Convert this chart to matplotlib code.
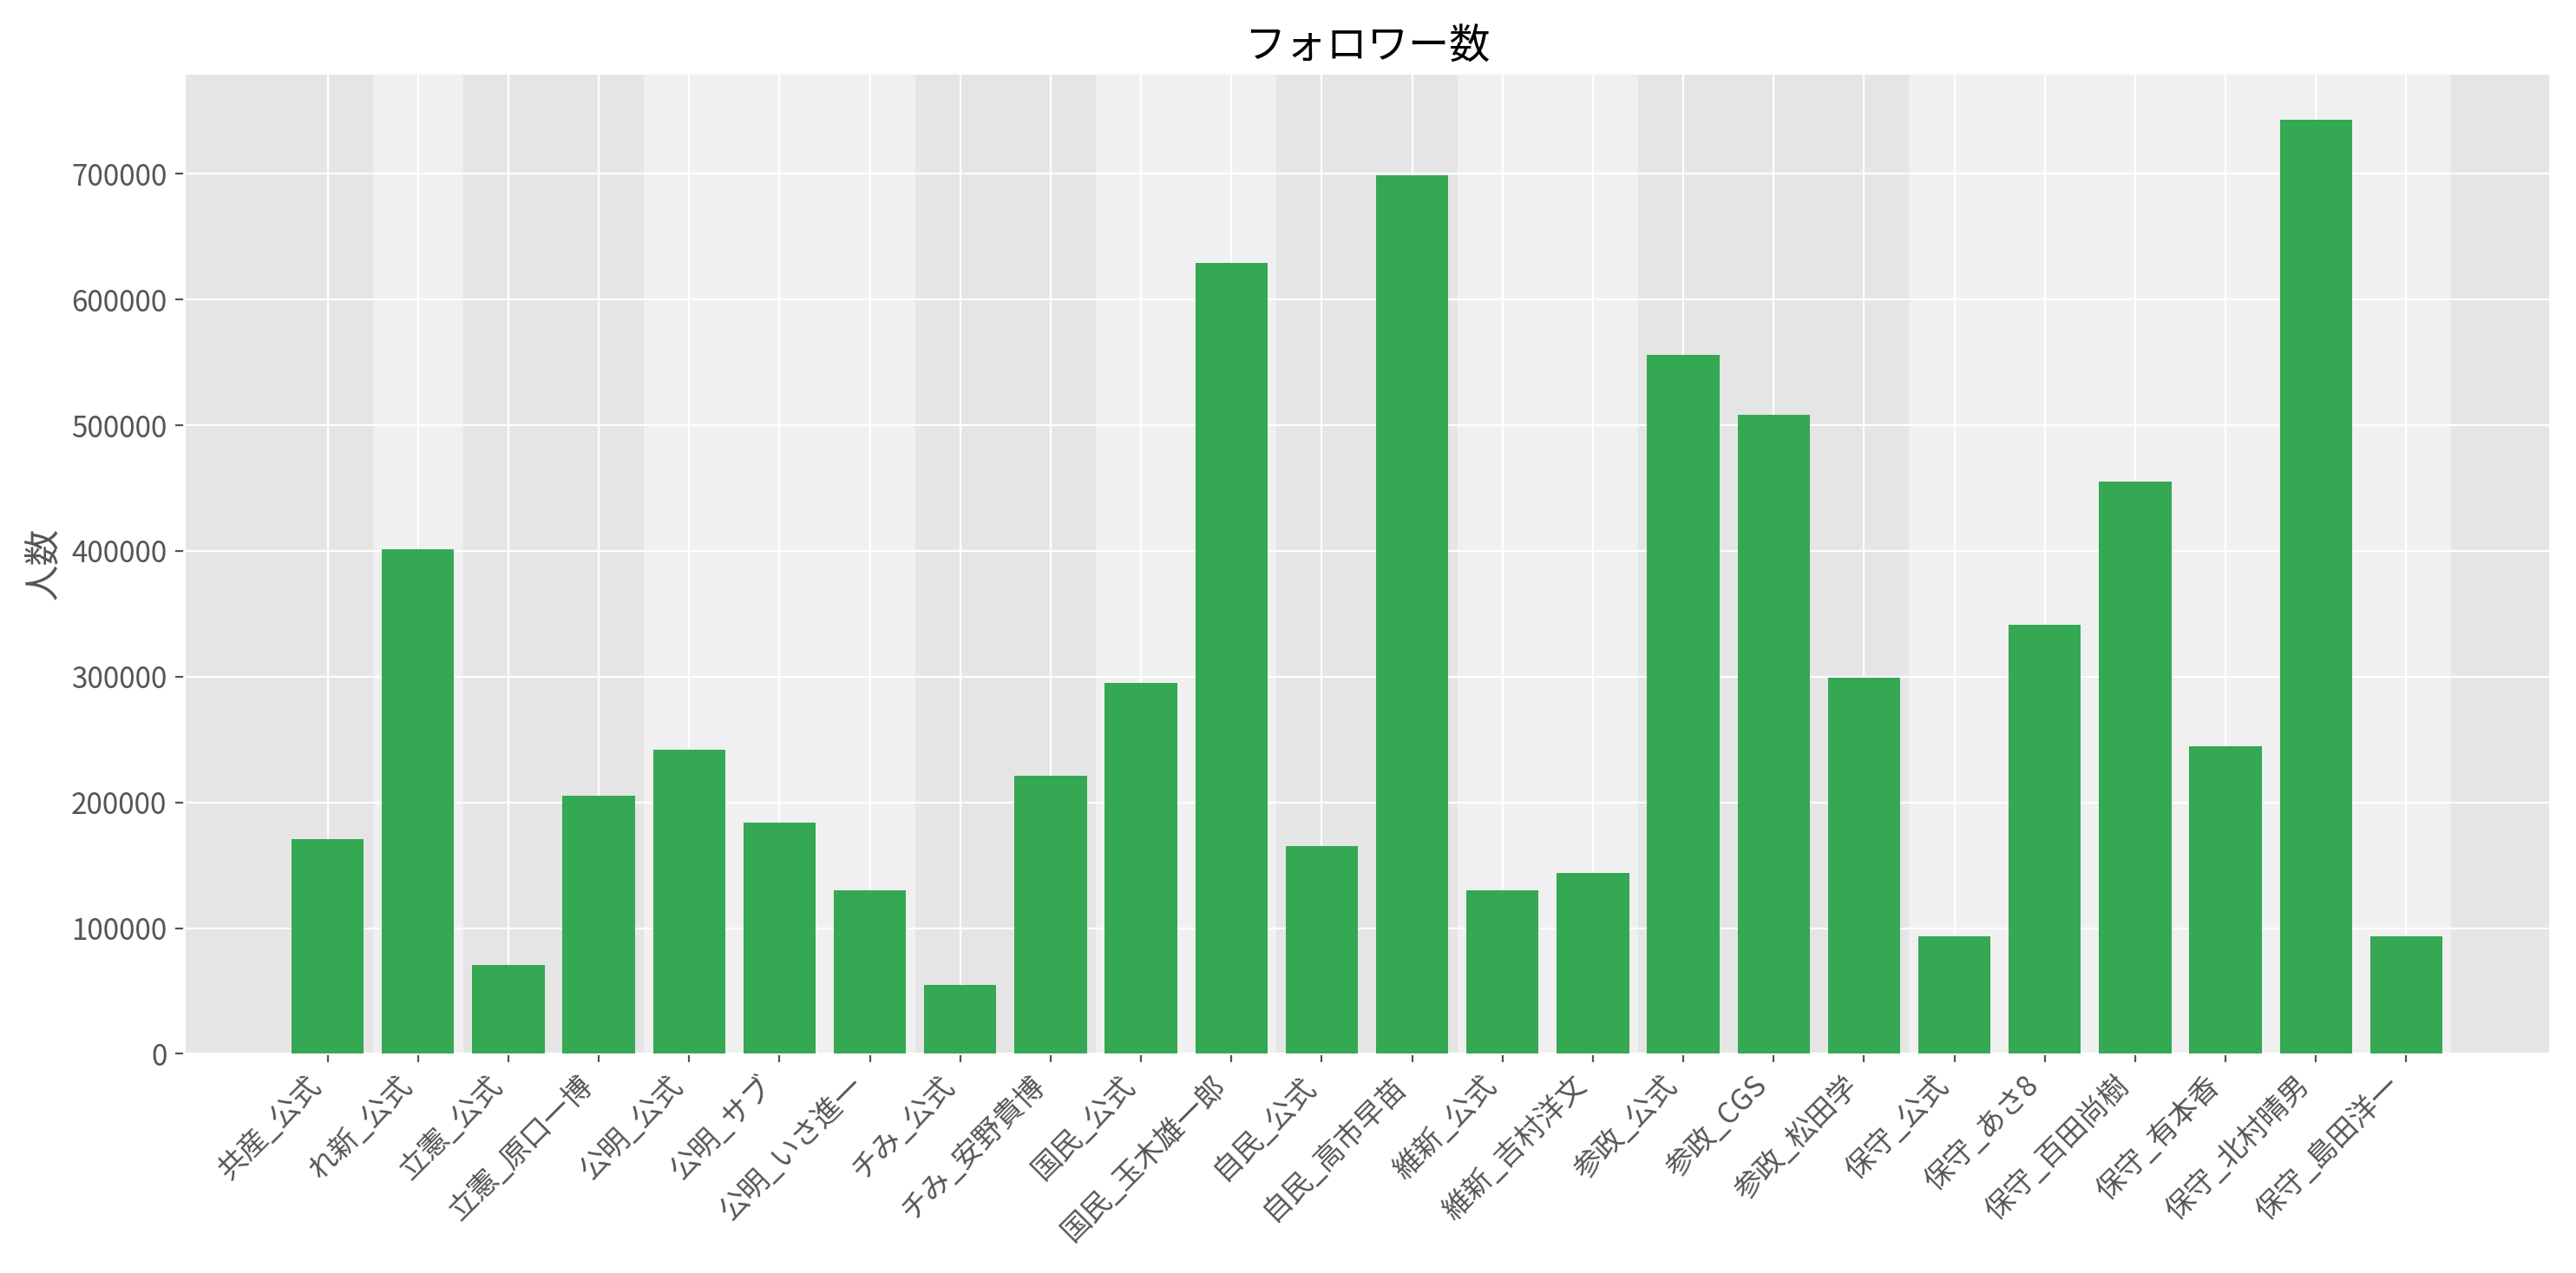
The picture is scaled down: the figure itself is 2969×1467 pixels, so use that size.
import matplotlib.pyplot as plt
import numpy as np

plt.style.use('ggplot')
plt.rcParams['font.family'] = ['Noto Sans CJK JP', 'DejaVu Sans']

accounts = ['共産_公式', 'れ新_公式', '立憲_公式', '立憲_原口一博', '公明_公式', '公明_サブ',
            '公明_いさ進一', 'チみ_公式', 'チみ_安野貴博', '国民_公式', '国民_玉木雄一郎',
            '自民_公式', '自民_高市早苗', '維新_公式', '維新_吉村洋文', '参政_公式', '参政_CGS',
            '参政_松田学', '保守_公式', '保守_あさ8', '保守_百田尚樹', '保守_有本香',
            '保守_北村晴男', '保守_島田洋一']
followers = [171000, 401000, 71000, 205000, 242000, 184000, 130000, 54500, 221000, 295000,
             629000, 165000, 698600, 130000, 144000, 556000, 508600, 299000, 93600, 341000,
             455500, 244500, 743000, 93600]
# party groups as (first index, last index)
groups = [(0, 0), (1, 1), (2, 3), (4, 6), (7, 8), (9, 10), (11, 12), (13, 14), (15, 17), (18, 23)]

fig, ax = plt.subplots(figsize=(14.845, 7.335), dpi=200)
x = np.arange(len(accounts))
for k, (a, b) in enumerate(groups):
    if k % 2 == 1:
        ax.axvspan(a - 0.5, b + 0.5, color='white', alpha=0.45, lw=0, zorder=0.5)
ax.bar(x, followers, color='#34a853', zorder=3)
ax.set_xlim(-1.59, 24.59)
ax.set_xticks(x)
ax.set_xticklabels(accounts, rotation=45, ha='right', fontsize=12)
ax.tick_params(axis='y', labelsize=12)
ax.set_ylabel('人数', fontsize=15)
ax.set_title('フォロワー数', fontsize=17, color='black')
fig.tight_layout()
fig.savefig('out.png')
